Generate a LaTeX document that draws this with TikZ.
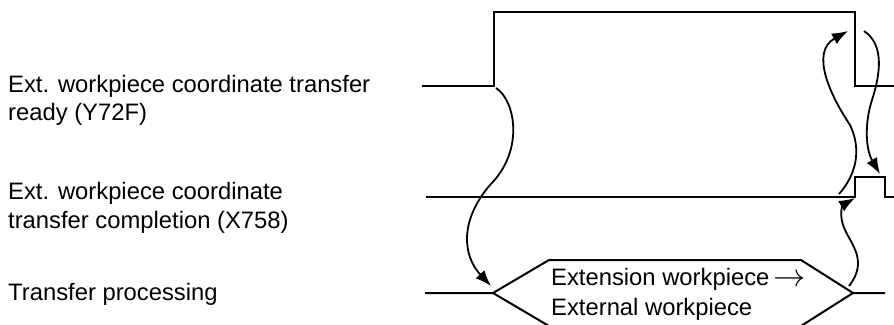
\documentclass[tikz,border=0pt]{standalone}
\usepackage{fontspec}
\setmainfont{Liberation Sans}
\usetikzlibrary{arrows.meta}
\begin{document}
\begin{tikzpicture}[x=1pt,y=-1pt,
  sig/.style={line width=2pt, line join=miter},
  lbl/.style={anchor=base west, inner sep=0pt, font=\fontsize{23.8}{28.5}\selectfont},
  cause/.style={line width=1.8pt, -{Latex[length=16pt,width=12pt]}}]
\useasboundingbox (0,0) rectangle (894,324);
% labels
\node[lbl] (l1a) at (8,92) {Ext. workpiece coordinate transfer};
\node[lbl] (l1b) at (8,120) {ready (Y72F)};
\node[lbl] (l2a) at (8,199.5) {Ext. workpiece coordinate};
\node[lbl] (l2b) at (8,228) {transfer completion (X758)};
\node[lbl] (l3) at (8,300) {Transfer processing};
% Y72F
\coordinate (ys) at (422,86);
\coordinate (yr) at (494,86);
\coordinate (yrt) at (494,12);
\coordinate (yft) at (855,12);
\coordinate (yf) at (855,86);
\coordinate (ye) at (894,86);
\draw[sig] (ys) -- (yr) -- (yrt) -- (yft) -- (yf) -- (ye);
% X758
\coordinate (xs) at (426,197);
\coordinate (xr) at (855,197);
\coordinate (xrt) at (855,177);
\coordinate (xft) at (885,177);
\coordinate (xf) at (885,197);
\coordinate (xe) at (894,197);
\draw[sig] (xs) -- (xr) -- (xrt) -- (xft) -- (xf) -- (xe);
% Transfer processing
\coordinate (ts) at (425,293);
\coordinate (hl) at (493,293);
\coordinate (htl) at (549,260);
\coordinate (htr) at (801,260);
\coordinate (hr) at (853,293);
\coordinate (hbl) at (549,326);
\coordinate (hbr) at (801,326);
\coordinate (te) at (885,293);
\draw[sig] (ts) -- (hl) -- (htl) -- (htr) -- (hr) -- (te);
\draw[sig] (hl) -- (hbl) -- (hbr) -- (hr);
\node[lbl] (h1) at (551,285) {Extension workpiece\,\raisebox{-1pt}{\scalebox{1.3}{$\rightarrow$}}};
\node[lbl] (h2) at (551,315) {External workpiece};
% cause arrows
\coordinate (a1s) at (496,88);
\coordinate (a1e) at (491,286);
\draw[cause] (a1s) .. controls (515,100) and (525,150) .. (490,185)
  .. controls (460,220) and (462,255) .. (a1e);
\coordinate (a2s) at (849,286);
\coordinate (a2e) at (855,198);
\draw[cause] (a2s) .. controls (868,262) and (852,245) .. (845,230)
  .. controls (838,215) and (843,205) .. (a2e);
\coordinate (a3s) at (839,194);
\coordinate (a3e) at (848,31);
\draw[cause] (a3s) .. controls (856,175) and (862,150) .. (850,125)
  .. controls (830,95) and (810,52) .. (a3e);
\coordinate (a4s) at (864,31);
\coordinate (a4e) at (880,174);
\draw[cause] (a4s) .. controls (885,45) and (880,75) .. (872,100)
  .. controls (864,125) and (866,150) .. (a4e);
\end{tikzpicture}
\end{document}
